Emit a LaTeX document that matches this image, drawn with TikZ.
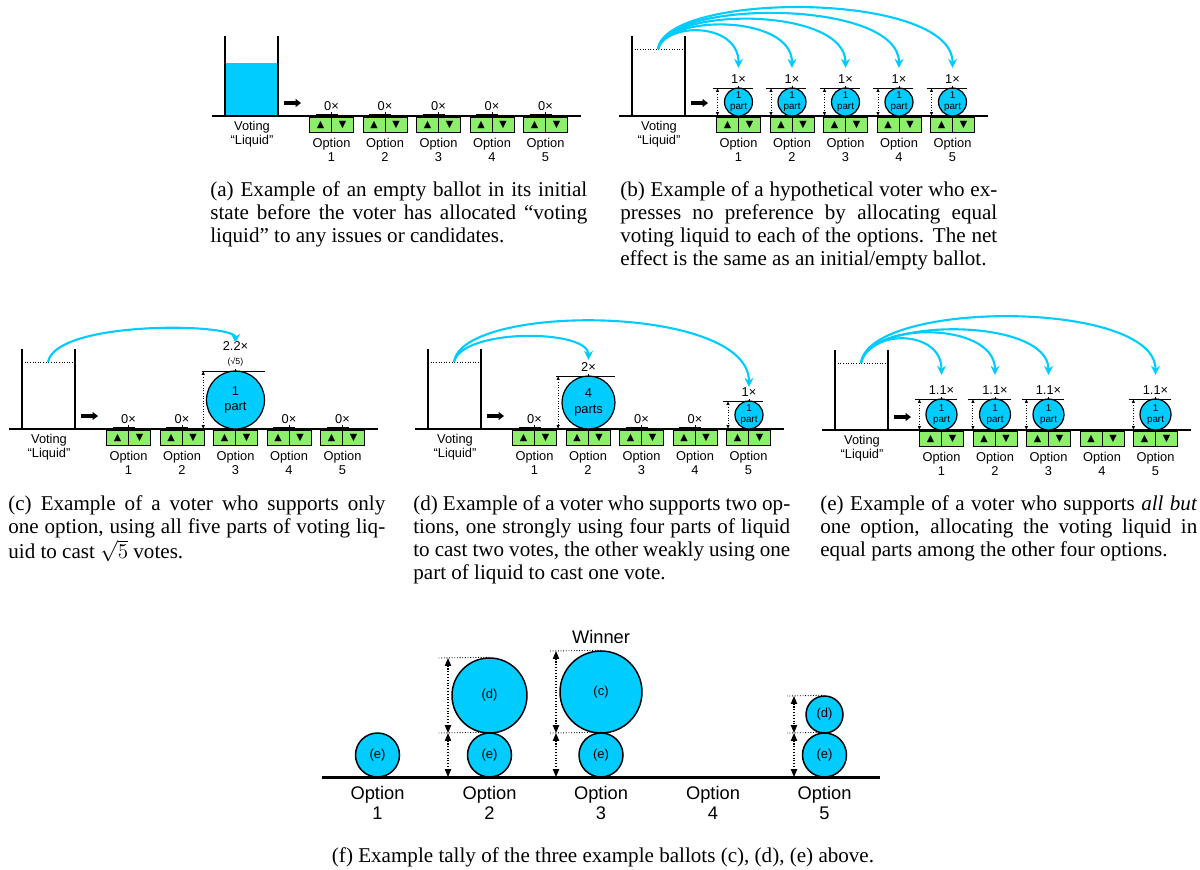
\documentclass[tikz,border=0pt]{standalone}
\usepackage{fontspec}
\setmainfont{Liberation Serif}
\setsansfont{Liberation Sans}
\newfontfamily\symfont{DejaVu Sans}
\usepackage{tikz}
\usetikzlibrary{arrows.meta,positioning,calc}
\definecolor{liquid}{HTML}{00CCFF}
\definecolor{btngreen}{HTML}{8CEE6A}

\tikzset{
  lbl/.style={inner sep=0pt, font=\sffamily\fontsize{7.3}{7.9}\selectfont, align=center},
  biglbl/.style={inner sep=0pt, font=\sffamily\fontsize{10.4}{11.3}\selectfont, align=center},
  caption/.style={inner sep=0pt, font=\fontsize{12}{13.2}\selectfont, align=left},
  btn/.style={draw, fill=btngreen, line width=0.5pt, minimum width=0.44cm, minimum height=0.3cm, inner sep=0pt, font=\symfont\fontsize{5.5}{5.5}\selectfont},
  vote/.style={circle, draw, fill=liquid, line width=0.7pt, inner sep=0pt, align=center},
  ground/.style={line width=1.1pt},
  wall/.style={line width=0.9pt},
  fat/.style={line width=2.3pt, -{Triangle[length=3pt,width=4.4pt]}},
  flow/.style={liquid, line width=1.2pt, -{Stealth[length=5.2pt,width=5pt]}},
  dim/.style={densely dotted, line width=0.5pt, {Latex[length=2.2pt,width=2pt]}-{Latex[length=2.2pt,width=2pt]}},
  bigdim/.style={densely dotted, line width=0.6pt, {Triangle[length=4.5pt,width=3.6pt]}-{Triangle[length=4.5pt,width=3.6pt]}},
  rule/.style={line width=0.5pt},
  guide/.style={densely dotted, line width=0.5pt},
}

\begin{document}
\begin{tikzpicture}[x=0.02cm, y=-0.02cm]
\useasboundingbox (0,0) rectangle (1200,869);

% liquid still in the container of (a)
\fill[liquid] (225,63) rectangle (278,116);

% the five ballots
\foreach \p/\lx/\gy in {a/225/116, b/632/116, c/22/429, d/428/429, e/835/430} {
  \draw[ground] ({\lx-13},\gy) -- ({\lx+356},\gy);
  \draw[wall] (\lx,{\gy-80}) -- (\lx,\gy) ({\lx+53},{\gy-80}) -- ({\lx+53},\gy);
  \node[lbl] (liq-\p) at ({\lx+27},{\gy+18}) {Voting\\“Liquid”};
  \draw[fat] ({\lx+59},{\gy-13}) -- ({\lx+76},{\gy-13});
  \foreach \k in {1,...,5} {
    \node[btn] (up-\p\k) at ({\lx+95.5+53.5*(\k-1)},{\gy+8.5}) {▲};
    \node[btn, right=-0.5pt of up-\p\k] (dn-\p\k) {▼};
    \node[lbl] (opt-\p\k) at ({\lx+106.5+53.5*(\k-1)},{\gy+34}) {Option\\\k};
  }
}

% level mark and source of the poured liquid
\foreach \p/\lx/\gy in {b/632/116, c/22/429, d/428/429, e/835/430} {
  \draw[guide] (\lx,{\gy-67}) -- ({\lx+53},{\gy-67});
  \coordinate (src-\p) at ({\lx+26},{\gy-67});
}

% options that got nothing
\foreach \p/\lx/\gy/\ks in {a/225/116/{1,2,3,4,5}, c/22/429/{1,2,4,5}, d/428/429/{1,3,4}} {
  \foreach \k in \ks {
    \pgfmathsetmacro\ox{\lx+106.5+53.5*(\k-1)}
    \node[lbl] (zero-\p\k) at (\ox,{\gy-10}) {0×};
    \draw[rule] ({\ox-16},{\gy-2}) -- ({\ox+6},{\gy-2}) (\ox,{\gy-4.5}) -- (\ox,{\gy-1});
  }
}

% the votes: name/x/ground/radius/font/skip/label/content/tip
\foreach \nm/\ox/\gy/\rad/\fs/\ls/\val/\inside/\ty in {
    b1/738.5/116/14/5.6/6.4/1×/{1\\part}/68,
    b2/792/116/14/5.6/6.4/1×/{1\\part}/68,
    b3/845.5/116/14/5.6/6.4/1×/{1\\part}/68,
    b4/899/116/14/5.6/6.4/1×/{1\\part}/68,
    b5/952.5/116/14/5.6/6.4/1×/{1\\part}/68,
    c3/235.5/429/29/7.3/9/{2.2×\\{\fontsize{5}{6}\selectfont(√5)}}/{1\\part}/343,
    d2/588.5/429/26.5/7.3/9/2×/{4\\parts}/360,
    d5/749/429/14/5.6/6.4/1×/{1\\part}/387,
    e1/941.5/430/15.5/5.6/6.4/1.1×/{1\\part}/375,
    e2/995/430/15.5/5.6/6.4/1.1×/{1\\part}/375,
    e3/1048.5/430/15.5/5.6/6.4/1.1×/{1\\part}/375,
    e5/1155.5/430/15.5/5.6/6.4/1.1×/{1\\part}/375} {
  \node[vote, minimum size=0.04cm*\rad, font=\sffamily\fontsize{\fs}{\ls}\selectfont] (vote-\nm) at (\ox,{\gy-\rad}) {\inside};
  \node[lbl, anchor=south] (val-\nm) at (\ox,{\gy-2*\rad-4}) {\val};
  \coordinate (tip-\nm) at (\ox,\ty);
  \draw[rule] ({\ox-0.55*\rad-18},{\gy-2*\rad}) -- ({\ox+\rad},{\gy-2*\rad});
  \draw[rule] (\ox,{\gy-2*\rad-2.5}) -- (\ox,{\gy-2*\rad+1});
  \draw[dim] ({\ox-0.75*\rad-10.5},{\gy-2*\rad}) -- ({\ox-0.75*\rad-10.5},\gy);
}

% pouring
\foreach \s/\t/\a/\b in {b/b1/27/46, b/b2/34.75/53.75, b/b3/42.5/61.5, b/b4/50.25/69.25, b/b5/58/77,
    c/c3/42/20, d/d2/34/31, d/d5/59/83, e/e1/34/46, e/e2/42/54, e/e3/46/58, e/e5/63.5/75.5}
  \draw[flow] (src-\s) .. controls +(8,-\a) and +(0,-\b) .. (tip-\t);

% tally
\draw[line width=1.7pt] (322,777) -- (880,777);
\foreach \k/\x in {1/377.5, 2/489.5, 3/601, 4/713, 5/824.5}
  \node[biglbl] (tally\k) at (\x,803) {Option\\\k};
\tikzset{every node/.append style={font=\sffamily\fontsize{7.4}{8}\selectfont}}
\node[vote, line width=0.85pt, minimum size=0.88cm] (t1e) at (377.5,755) {(e)};
\node[vote, line width=0.85pt, minimum size=0.88cm] (t2e) at (489.5,755) {(e)};
\node[vote, line width=0.85pt, minimum size=1.5cm] (t2d) at (489.5,695.5) {(d)};
\node[vote, line width=0.85pt, minimum size=0.88cm] (t3e) at (601,755) {(e)};
\node[vote, line width=0.85pt, minimum size=1.64cm] (t3c) at (601,692) {(c)};
\node[vote, line width=0.85pt, minimum size=0.88cm] (t5e) at (824.5,755) {(e)};
\node[vote, line width=0.85pt, minimum size=0.74cm] (t5d) at (824.5,714.5) {(d)};
\node[biglbl] (win) at (601,637) {Winner};
\draw[guide] (t2d.north) -- (437,658) (t2e.north) -- (437,733);
\draw[guide] (t3c.north) -- (550,651) (t3e.north) -- (550,733);
\draw[guide] (t5d.north) -- (787,696) (t5e.north) -- (787,733);
\draw[bigdim] (448,658) -- (448,733);
\draw[bigdim] (448,733) -- (448,777);
\draw[bigdim] (556,651) -- (556,733);
\draw[bigdim] (556,733) -- (556,777);
\draw[bigdim] (794,696) -- (794,733);
\draw[bigdim] (794,733) -- (794,777);

% captions
\node[caption, anchor=north west] (cap-a) at (210,181) {%
\makebox[7.54cm][s]{(a) Example of an empty ballot in its initial}\\
\makebox[7.54cm][s]{state before the voter has allocated “voting}\\
liquid” to any issues or candidates.};
\node[caption, anchor=north west] (cap-b) at (620,181) {%
\makebox[7.54cm][s]{(b) Example of a hypothetical voter who ex-}\\
\makebox[7.54cm][s]{presses no preference by allocating equal}\\
\makebox[7.54cm][s]{voting liquid to each of the options. The net}\\
effect is the same as an initial/empty ballot.};
\node[caption, anchor=north west] (cap-c) at (8,495) {%
\makebox[7.54cm][s]{(c) Example of a voter who supports only}\\
\makebox[7.54cm][s]{one option, using all five parts of voting liq-}\\
uid to cast $\sqrt{5}$ votes.};
\node[caption, anchor=north west] (cap-d) at (413,495) {%
\makebox[7.54cm][s]{(d) Example of a voter who supports two op-}\\
\makebox[7.54cm][s]{tions, one strongly using four parts of liquid}\\
\makebox[7.54cm][s]{to cast two votes, the other weakly using one}\\
part of liquid to cast one vote.};
\node[caption, anchor=north west] (cap-e) at (820,495) {%
\makebox[7.54cm][s]{(e) Example of a voter who supports \textit{all but}}\\
\makebox[7.54cm][s]{one option, allocating the voting liquid in}\\
equal parts among the other four options.};
\node[caption, anchor=base] (cap-f) at (603,862) {(f) Example tally of the three example ballots (c), (d), (e) above.};
\end{tikzpicture}
\end{document}
